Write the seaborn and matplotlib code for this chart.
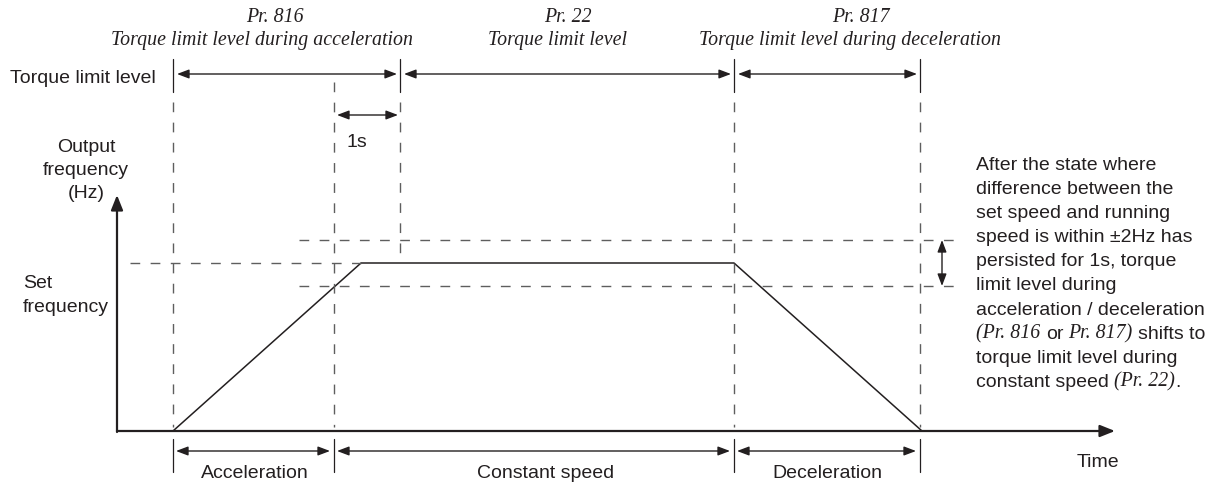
import matplotlib
matplotlib.use("Agg")
import matplotlib.pyplot as plt
import seaborn as sns

# ---- diagram data (x: time position, y: drawing rows, time axis at AXIS_Y) ----
AXIS_Y = 432
time_axis = [117, 1115]          # start / arrow tip of the time axis
freq_axis_top = 196              # tip of the frequency axis

profile_time = [173, 361, 734, 922]
profile_freq = [0, 168, 168, 0]
set_freq = 168
band = 23                        # +-2Hz band

torque_edges = [173, 400, 734, 920]
torque_pr = ["Pr. 816", "Pr. 22", "Pr. 817"]
torque_names = ["Torque limit level during acceleration",
                "Torque limit level",
                "Torque limit level during deceleration"]

phase_edges = [173, 334, 734, 920]
phase_names = ["Acceleration", "Constant speed", "Deceleration"]

hold_span = [334, 400]           # 1 s after reaching the band

note_lines = [
    ["After the state where"],
    ["difference between the"],
    ["set speed and running"],
    ["speed is within \u00b12Hz has"],
    ["persisted for 1s, torque"],
    ["limit level during"],
    ["acceleration / deceleration"],
    ["*(Pr. 816", " or", " *Pr. 817)", " shifts to"],
    ["torque limit level during"],
    ["constant speed", " *(Pr. 22)", "."],
]

# ---- style ----
sns.set_theme(style="white")
plt.rcParams['font.family'] = ['Liberation Sans', 'DejaVu Sans']
INK = '#231f20'
GREY = '#5e5e5e'
SANS = dict(fontsize=14, color=INK, family=['Liberation Sans', 'DejaVu Sans'])
ITAL = dict(fontsize=14.3, color=INK, family=['Liberation Serif', 'DejaVu Serif'], style='italic')

fig = plt.figure(figsize=(12.15, 4.85), dpi=100)
ax = fig.add_axes([0, 0, 1, 1])


def dashed(xs, ys):
    ax.plot(xs, ys, color=GREY, lw=1.0, ls=(0, (7, 7.5)), solid_capstyle='butt')


def solid(xs, ys):
    ax.plot(xs, ys, color=INK, lw=0.9)


def darrow(x0, y0, x1, y1):
    ax.annotate('', xy=(x1, y1), xytext=(x0, y0),
                arrowprops=dict(arrowstyle='<|-|>,head_length=0.45,head_width=0.17',
                                mutation_scale=16, lw=1.0, color=INK,
                                shrinkA=0, shrinkB=0))


# frequency profile
sns.lineplot(x=profile_time, y=[AXIS_Y - f for f in profile_freq], sort=False,
             estimator=None, color=INK, lw=1.1, ax=ax)

# axes with arrow heads
axis_arrow = dict(arrowstyle='-|>,head_length=0.5,head_width=0.2', mutation_scale=18,
                  lw=1.6, color=INK, shrinkA=0, shrinkB=0)
ax.annotate('', xy=(time_axis[0], freq_axis_top), xytext=(time_axis[0], AXIS_Y + 1),
            arrowprops=axis_arrow)
ax.annotate('', xy=(time_axis[1], AXIS_Y), xytext=(time_axis[0], AXIS_Y),
            arrowprops=axis_arrow)

# reference levels
dashed([130, profile_time[1]], [AXIS_Y - set_freq] * 2)
for lvl in (set_freq + band, set_freq - band):
    dashed([299, 962], [AXIS_Y - lvl] * 2)
darrow(942, AXIS_Y - set_freq - band, 942, AXIS_Y - set_freq + band)

# vertical guides
for x in torque_edges:
    solid([x, x], [60, 93])
for x in phase_edges:
    solid([x, x], [440, 473])
dashed([173, 173], [103, 428])
dashed([334, 334], [83, 428])
dashed([400, 400], [103, 257])
dashed([734, 734], [103, 428])
dashed([920, 920], [103, 428])

# torque limit row
for i in range(3):
    darrow(torque_edges[i] + 4, 75, torque_edges[i + 1] - 3, 75)
pr_x = [275, 568, 861]
name_x = [262, 557, 850]
for i in range(3):
    ax.text(pr_x[i], 22, torque_pr[i], ha='center', va='baseline', **ITAL)
    ax.text(name_x[i], 45, torque_names[i], ha='center', va='baseline', **ITAL)
ax.text(10, 83, "Torque limit level", ha='left', va='baseline', **SANS)

# 1 s arrow
darrow(hold_span[0] + 3, 116, hold_span[1] - 2, 116)
ax.text(sum(hold_span) / 2 - 10, 147, "1s", ha='center', va='baseline', **SANS)

# phases under the time axis
for i in range(3):
    darrow(phase_edges[i] + 3, 452, phase_edges[i + 1] - 4, 452)
label_x = [255, 546, 827]
for i in range(3):
    ax.text(label_x[i], 478, phase_names[i], ha='center', va='baseline', **SANS)
ax.text(1098, 467, "Time", ha='center', va='baseline', **SANS)

# axis labels
for txt, yb in zip(["Output", "frequency", "(Hz)"], [152, 175, 198]):
    ax.text(86, yb, txt, ha='center', va='baseline', **SANS)
for txt, yb in zip(["Set", "frequency"], [288, 312]):
    ax.text(23, yb, txt, ha='left', va='baseline', **SANS)

# explanatory note, mixed fonts on some lines
for k, parts in enumerate(note_lines):
    yb = 170 + 24.1 * k
    prev = None
    for p in parts:
        gap = 3.9 if p.startswith(' ') else 0
        p = p.strip()
        kw = ITAL if p.startswith('*') else SANS
        p = p.lstrip('*')
        if prev is None:
            prev = ax.text(976, yb, p, ha='left', va='baseline', **kw)
        else:
            prev = ax.annotate(p, xy=(1, yb), xycoords=(prev, 'data'),
                               xytext=(gap, 0), textcoords='offset points',
                               ha='left', va='baseline', **kw)

ax.set_xlim(0, 1215)
ax.set_ylim(485, 0)
ax.axis('off')

fig.savefig("out.png", dpi=100, facecolor='white')
